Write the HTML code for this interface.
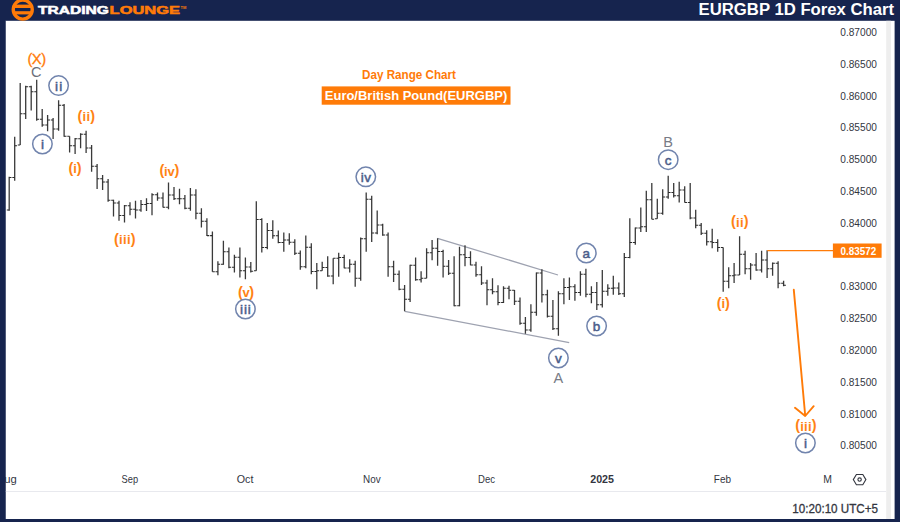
<!DOCTYPE html>
<html lang="en"><head><meta charset="utf-8"><title>EURGBP 1D Forex Chart</title>
<style>
html,body{margin:0;padding:0;background:#16244e;}
body{width:900px;height:522px;overflow:hidden;position:relative;}
svg{display:block;position:absolute;left:0;top:0;font-family:"Liberation Sans",sans-serif;}
</style></head><body>
<svg width="900" height="522" viewBox="0 0 900 522">
<rect x="0" y="0" width="900" height="522" fill="#16244e"/>
<rect x="5.5" y="20.8" width="889.1" height="498.2" fill="#ffffff"/>
<rect x="886.2" y="20.8" width="4.8" height="498.2" fill="#eeeeee"/>
<rect x="5.5" y="491" width="880.5" height="1" fill="#e8e9ee"/>
<!-- logo -->
<g>
<circle cx="22.75" cy="9.6" r="9.5" fill="none" stroke="#ff7b08" stroke-width="3.4"/>
<rect x="13.5" y="4.6" width="18.5" height="3.4" fill="#ff7b08"/>
<rect x="13.5" y="11.2" width="18.5" height="3.2" fill="#ff7b08"/>
<text x="37.9" y="13.9" font-size="11.6" font-weight="bold" fill="#ffffff" stroke="#ffffff" stroke-width="0.55" textLength="71" lengthAdjust="spacingAndGlyphs">TRADING</text>
<text x="109.6" y="13.9" font-size="11.6" font-weight="bold" fill="#ff7b08" stroke="#ff7b08" stroke-width="0.55" textLength="70.4" lengthAdjust="spacingAndGlyphs">LOUNGE</text>
<text x="180.6" y="8.5" font-size="4" font-weight="bold" fill="#ff7b08">TM</text>
</g>
<text x="894.2" y="15.1" text-anchor="end" font-size="15.6" font-weight="bold" fill="#ffffff" textLength="195.6" lengthAdjust="spacingAndGlyphs">EURGBP 1D Forex Chart</text>
<!-- titles -->
<text x="409" y="78.6" text-anchor="middle" font-size="12" font-weight="bold" fill="#ff7b08" textLength="94" lengthAdjust="spacingAndGlyphs">Day Range Chart</text>
<rect x="321.7" y="86.4" width="188.8" height="18.3" fill="#ff7b08"/>
<text x="324.8" y="99.7" font-size="13" font-weight="bold" fill="#ffffff" textLength="182.5" lengthAdjust="spacingAndGlyphs">Euro/British Pound(EURGBP)</text>
<!-- trend lines -->
<path d="M437.5 238.3L558 275M404.7 311.3L569.2 342.6" stroke="#9ea2b0" stroke-width="1.25" fill="none"/>
<!-- bars -->
<path d="M9.2 176.7V210.8M14.7 136.7V180.8M20.2 83.0V145.0M25.7 85.8V119.0M31.2 85.8V110.5M36.7 79.7V120.8M42.2 109.0V126.7M47.6 115.0V131.3M53.1 118.0V139.0M58.6 100.3V130.8M64.1 104.0V136.7M69.6 136.3V152.5M75.1 138.0V154.0M80.6 133.3V148.3M86.1 130.8V153.0M91.6 145.0V171.7M97.1 164.0V189.0M102.6 175.0V190.0M108.1 179.0V201.7M113.5 199.7V216.5M119.0 200.8V220.8M124.5 205.0V222.5M130.0 202.3V215.2M135.5 200.8V218.5M141.0 200.0V211.7M146.5 198.3V211.0M152.0 193.3V215.3M157.5 192.5V200.8M163.0 192.5V207.5M168.5 182.5V209.2M174.0 187.0V200.0M179.5 188.7V204.2M184.9 195.0V209.2M190.4 188.0V210.8M195.9 189.2V219.2M201.4 208.2V227.5M206.9 218.3V236.0M212.4 231.5V271.7M217.9 261.3V275.3M223.4 240.8V264.7M228.9 247.5V268.3M234.4 254.7V272.5M239.9 247.5V277.5M245.4 257.5V279.2M250.8 262.0V272.5M256.3 201.3V270.8M261.8 218.3V252.5M267.3 223.0V249.2M272.8 220.3V238.7M278.3 230.5V243.3M283.8 232.5V251.7M289.3 233.3V244.7M294.8 239.2V255.0M300.3 250.5V269.7M305.8 235.5V268.3M311.3 243.3V274.2M316.8 263.0V289.2M322.2 261.7V270.8M327.7 256.3V276.7M333.2 258.3V284.2M338.7 252.7V276.7M344.2 254.7V268.3M349.7 259.2V272.5M355.2 260.8V286.7M360.7 237.5V280.8M366.2 192.5V251.7M371.7 195.8V242.0M377.2 210.5V234.2M382.7 223.7V235.8M388.1 232.5V276.7M393.6 260.8V282.0M399.1 270.5V290.3M404.6 285.0V311.3M410.1 264.8V302.0M415.6 257.5V280.8M421.1 271.2V282.5M426.6 248.3V278.3M432.1 240.0V260.2M437.6 238.3V265.8M443.1 249.7V277.5M448.6 260.0V275.0M454.1 256.3V306.3M459.5 246.7V306.3M465.0 245.3V266.3M470.5 251.3V265.3M476.0 261.7V276.7M481.5 266.3V285.0M487.0 279.7V305.3M492.5 278.3V294.2M498.0 285.3V305.3M503.5 286.3V303.0M509.0 285.8V299.2M514.5 290.0V305.0M520.0 297.5V324.7M525.4 317.0V333.7M530.9 304.2V331.7M536.4 272.5V315.8M541.9 269.2V302.5M547.4 289.7V317.5M552.9 300.0V330.0M558.4 291.3V335.8M563.9 278.3V304.2M569.4 277.5V300.0M574.9 284.2V300.8M580.4 271.3V295.8M585.9 268.7V297.3M591.4 286.3V303.3M596.8 282.0V310.0M602.3 270.0V307.5M607.8 284.2V295.8M613.3 275.8V294.7M618.8 282.5V295.0M624.3 253.0V297.0M629.8 218.3V258.3M635.3 227.5V244.7M640.8 207.5V232.0M646.3 190.8V232.0M651.8 183.0V219.2M657.3 198.7V218.7M662.7 189.2V214.7M668.2 175.8V198.7M673.7 183.0V197.5M679.2 181.7V202.5M684.7 186.3V202.5M690.2 183.0V219.2M695.7 209.7V228.3M701.2 223.0V235.0M706.7 230.3V245.5M712.2 228.7V248.2M717.7 239.3V251.7M723.2 247.5V291.7M728.7 267.2V288.3M734.1 263.0V283.0M739.6 236.3V275.0M745.1 250.8V274.2M750.6 263.0V279.7M756.1 253.0V270.8M761.6 250.8V272.5M767.1 250.3V278.0M772.6 262.5V275.8M778.1 261.3V288.3M783.6 280.8V286.3" stroke="#3a3a3a" stroke-width="1.3" fill="none"/>
<path d="M6.8 210.0H9.2M9.2 177.5H11.5M12.3 177.5H14.7M14.7 145.8H17.0M17.8 145.0H20.2M20.2 113.7H22.5M23.3 113.7H25.7M25.7 86.7H28.0M28.8 86.7H31.2M31.2 91.7H33.5M34.3 91.7H36.7M36.7 119.2H39.0M39.8 119.2H42.2M42.2 125.0H44.5M45.3 125.0H47.6M47.6 120.0H50.0M50.8 120.0H53.1M53.1 129.0H55.5M56.3 129.0H58.6M58.6 105.3H61.0M61.8 105.3H64.1M64.1 136.3H66.5M67.3 136.3H69.6M69.6 145.8H72.0M72.8 145.8H75.1M75.1 138.7H77.5M78.2 138.7H80.6M80.6 134.2H82.9M83.7 134.2H86.1M86.1 148.0H88.4M89.2 148.0H91.6M91.6 166.3H93.9M94.7 166.3H97.1M97.1 178.7H99.4M100.2 178.7H102.6M102.6 182.0H104.9M105.7 182.0H108.1M108.1 200.3H110.4M111.2 200.3H113.5M113.5 203.0H115.9M116.7 203.0H119.0M119.0 215.5H121.4M122.2 215.5H124.5M124.5 205.8H126.9M127.7 205.8H130.0M130.0 209.2H132.4M133.2 209.2H135.5M135.5 210.0H137.9M138.7 210.0H141.0M141.0 204.5H143.4M144.2 204.5H146.5M146.5 203.5H148.8M149.6 203.5H152.0M152.0 194.7H154.3M155.1 194.7H157.5M157.5 198.0H159.8M160.6 198.0H163.0M163.0 207.3H165.3M166.1 207.3H168.5M168.5 195.0H170.8M171.6 195.0H174.0M174.0 198.7H176.3M177.1 198.7H179.5M179.5 198.7H181.8M182.6 198.7H184.9M184.9 208.3H187.3M188.1 208.3H190.4M190.4 195.0H192.8M193.6 195.0H195.9M195.9 213.2H198.3M199.1 213.2H201.4M201.4 221.3H203.8M204.6 221.3H206.9M206.9 235.6H209.3M210.1 235.6H212.4M212.4 271.7H214.8M215.5 271.7H217.9M217.9 264.2H220.2M221.0 264.2H223.4M223.4 251.7H225.7M226.5 251.7H228.9M228.9 267.2H231.2M232.0 267.2H234.4M234.4 257.2H236.7M237.5 257.2H239.9M239.9 270.8H242.2M243.0 270.8H245.4M245.4 267.0H247.7M248.5 267.0H250.8M250.8 271.3H253.2M254.0 270.8H256.3M256.3 219.5H258.7M259.5 219.5H261.8M261.8 247.5H264.2M265.0 247.5H267.3M267.3 230.5H269.7M270.5 230.5H272.8M272.8 235.8H275.2M276.0 235.8H278.3M278.3 242.5H280.7M281.4 242.5H283.8M283.8 240.0H286.2M286.9 240.0H289.3M289.3 242.2H291.6M292.4 242.2H294.8M294.8 253.3H297.1M297.9 253.3H300.3M300.3 266.7H302.6M303.4 266.7H305.8M305.8 247.2H308.1M308.9 247.2H311.3M311.3 271.5H313.6M314.4 271.5H316.8M316.8 270.8H319.1M319.9 270.8H322.2M322.2 267.5H324.6M325.4 267.5H327.7M327.7 276.0H330.1M330.9 276.0H333.2M333.2 258.3H335.6M336.4 258.3H338.7M338.7 257.5H341.1M341.9 257.5H344.2M344.2 268.0H346.6M347.4 268.0H349.7M349.7 264.2H352.1M352.8 264.2H355.2M355.2 278.3H357.5M358.3 278.3H360.7M360.7 238.7H363.0M363.8 238.7H366.2M366.2 199.2H368.5M369.3 199.2H371.7M371.7 233.0H374.0M374.8 233.0H377.2M377.2 225.0H379.5M380.3 225.0H382.7M382.7 235.0H385.0M385.8 235.0H388.1M388.1 266.8H390.5M391.3 266.8H393.6M393.6 274.2H396.0M396.8 274.2H399.1M399.1 289.2H401.5M402.3 289.2H404.6M404.6 299.2H407.0M407.8 299.2H410.1M410.1 265.3H412.5M413.3 265.3H415.6M415.6 279.7H418.0M418.7 279.7H421.1M421.1 278.3H423.4M424.2 278.3H426.6M426.6 252.7H428.9M429.7 252.7H432.1M432.1 248.3H434.4M435.2 248.3H437.6M437.6 251.5H439.9M440.7 251.5H443.1M443.1 266.3H445.4M446.2 266.3H448.6M448.6 273.3H450.9M451.7 273.3H454.1M454.1 305.8H456.4M457.2 305.8H459.5M459.5 254.7H461.9M462.7 254.7H465.0M465.0 257.5H467.4M468.2 257.5H470.5M470.5 265.0H472.9M473.7 265.0H476.0M476.0 274.7H478.4M479.2 274.7H481.5M481.5 283.0H483.9M484.7 283.0H487.0M487.0 289.7H489.4M490.1 289.7H492.5M492.5 291.7H494.8M495.6 291.7H498.0M498.0 302.5H500.3M501.1 302.5H503.5M503.5 288.3H505.8M506.6 288.3H509.0M509.0 290.3H511.3M512.1 290.3H514.5M514.5 301.3H516.8M517.6 301.3H520.0M520.0 323.3H522.3M523.1 323.3H525.4M525.4 330.0H527.8M528.6 330.0H530.9M530.9 312.2H533.3M534.1 312.2H536.4M536.4 273.0H538.8M539.6 273.0H541.9M541.9 294.7H544.3M545.1 294.7H547.4M547.4 316.3H549.8M550.6 316.3H552.9M552.9 328.7H555.3M556.1 328.7H558.4M558.4 293.7H560.8M561.5 293.7H563.9M563.9 287.5H566.2M567.0 287.5H569.4M569.4 286.7H571.7M572.5 286.7H574.9M574.9 292.5H577.2M578.0 292.5H580.4M580.4 274.2H582.7M583.5 274.2H585.9M585.9 294.2H588.2M589.0 294.2H591.4M591.4 292.5H593.7M594.5 292.5H596.8M596.8 304.7H599.2M600.0 304.7H602.3M602.3 291.3H604.7M605.5 291.3H607.8M607.8 288.3H610.2M611.0 288.3H613.3M613.3 288.0H615.7M616.5 288.0H618.8M618.8 293.7H621.2M622.0 293.7H624.3M624.3 257.5H626.7M627.4 257.5H629.8M629.8 242.5H632.1M632.9 242.5H635.3M635.3 228.0H637.6M638.4 228.0H640.8M640.8 226.7H643.1M643.9 226.7H646.3M646.3 199.7H648.6M649.4 199.7H651.8M651.8 219.2H654.1M654.9 218.7H657.3M657.3 213.3H659.6M660.4 213.3H662.7M662.7 197.0H665.1M665.9 197.0H668.2M668.2 192.5H670.6M671.4 192.5H673.7M673.7 195.8H676.1M676.9 195.8H679.2M679.2 190.0H681.6M682.4 190.0H684.7M684.7 202.5H687.1M687.9 202.5H690.2M690.2 218.0H692.6M693.4 218.0H695.7M695.7 225.3H698.1M698.8 225.3H701.2M701.2 233.3H703.5M704.3 233.3H706.7M706.7 241.8H709.0M709.8 241.8H712.2M712.2 242.4H714.5M715.3 242.4H717.7M717.7 247.5H720.0M720.8 247.5H723.2M723.2 281.3H725.5M726.3 281.3H728.7M728.7 275.8H731.0M731.8 275.8H734.1M734.1 275.0H736.5M737.3 275.0H739.6M739.6 254.2H742.0M742.8 254.2H745.1M745.1 268.7H747.5M748.3 268.7H750.6M750.6 265.0H753.0M753.8 265.0H756.1M756.1 270.0H758.5M759.3 270.0H761.6M761.6 260.0H764.0M764.7 260.0H767.1M767.1 268.7H769.4M770.2 268.7H772.6M772.6 263.3H774.9M775.7 263.3H778.1M778.1 283.3H780.4M781.2 283.3H783.6M783.6 285.3H785.9" stroke="#2a2a2a" stroke-width="1.05" fill="none"/>
<!-- orange level + arrow -->
<path d="M767.2 250.6H833" stroke="#ff7b08" stroke-width="1.05" fill="none"/>
<rect x="832.9" y="243.5" width="48.7" height="14.3" fill="#ff7b08"/>
<text x="840.4" y="255" font-size="11" font-weight="bold" fill="#ffffff" textLength="35.8" lengthAdjust="spacingAndGlyphs">0.83572</text>
<path d="M793.8 289.8L805.2 415.5M795 407.8L805.2 416L813.7 406.2" stroke="#ff7b08" stroke-width="1.9" fill="none" stroke-linecap="round" stroke-linejoin="round"/>
<!-- wave labels -->
<text x="36.8" y="64.3" text-anchor="middle" font-size="14.8" fill="#ff7b08" stroke="#ff7b08" stroke-width="0.3" textLength="18.8" lengthAdjust="spacing">(X)</text>
<text x="36.3" y="76.60000000000001" text-anchor="middle" font-size="14.5" fill="#6c6f7a">C</text>
<circle cx="58.6" cy="85.6" r="9.75" fill="none" stroke="#7184ad" stroke-width="1.5"/><text x="58.6" y="90.5" text-anchor="middle" font-size="13.5" fill="#4a5d8a" stroke="#4a5d8a" stroke-width="0.5" textLength="7.4" lengthAdjust="spacing">ii</text>
<circle cx="42.4" cy="144" r="9.75" fill="none" stroke="#7184ad" stroke-width="1.5"/><text x="42.4" y="148.9" text-anchor="middle" font-size="13.5" fill="#4a5d8a" stroke="#4a5d8a" stroke-width="0.5">i</text>
<text x="77.60" y="120.9" font-weight="bold" fill="#ff8214" letter-spacing="0.17"><tspan font-size="14.5" dy="-0.3">(</tspan><tspan font-size="13" dy="0.3">ii</tspan><tspan font-size="14.5" dy="-0.3">)</tspan></text>
<text x="68.60" y="172.9" font-weight="bold" fill="#ff8214" letter-spacing="-0.14"><tspan font-size="14.5" dy="-0.3">(</tspan><tspan font-size="13" dy="0.3">i</tspan><tspan font-size="14.5" dy="-0.3">)</tspan></text>
<text x="114.00" y="243.9" font-weight="bold" fill="#ff8214" letter-spacing="0.28"><tspan font-size="14.5" dy="-0.3">(</tspan><tspan font-size="13" dy="0.3">iii</tspan><tspan font-size="14.5" dy="-0.3">)</tspan></text>
<text x="159.40" y="175.5" font-weight="bold" fill="#ff8214" letter-spacing="-0.17"><tspan font-size="14.5" dy="-0.3">(</tspan><tspan font-size="13" dy="0.3">iv</tspan><tspan font-size="14.5" dy="-0.3">)</tspan></text>
<text x="238.00" y="296.9" font-weight="bold" fill="#ff8214" letter-spacing="-0.44"><tspan font-size="14.5" dy="-0.3">(</tspan><tspan font-size="13" dy="0.3">v</tspan><tspan font-size="14.5" dy="-0.3">)</tspan></text>
<circle cx="245.4" cy="309" r="9.75" fill="none" stroke="#7184ad" stroke-width="1.5"/><text x="245.4" y="313.9" text-anchor="middle" font-size="13.5" fill="#4a5d8a" stroke="#4a5d8a" stroke-width="0.5" textLength="10.9" lengthAdjust="spacing">iii</text>
<circle cx="365.8" cy="176.8" r="9.75" fill="none" stroke="#7184ad" stroke-width="1.5"/><text x="365.8" y="181.7" text-anchor="middle" font-size="13.5" fill="#4a5d8a" stroke="#4a5d8a" stroke-width="0.5" textLength="10.2" lengthAdjust="spacing">iv</text>
<circle cx="586.3" cy="253" r="9.75" fill="none" stroke="#7184ad" stroke-width="1.5"/><text x="586.3" y="257.9" text-anchor="middle" font-size="13.5" fill="#4a5d8a" stroke="#4a5d8a" stroke-width="0.5">a</text>
<circle cx="596.6" cy="326" r="9.75" fill="none" stroke="#7184ad" stroke-width="1.5"/><text x="596.6" y="330.9" text-anchor="middle" font-size="13.5" fill="#4a5d8a" stroke="#4a5d8a" stroke-width="0.5">b</text>
<circle cx="558.4" cy="358" r="9.75" fill="none" stroke="#7184ad" stroke-width="1.5"/><text x="558.4" y="362.9" text-anchor="middle" font-size="13.5" fill="#4a5d8a" stroke="#4a5d8a" stroke-width="0.5">v</text>
<text x="558.4" y="382.9" text-anchor="middle" font-size="14.5" fill="#787b86">A</text>
<text x="668.2" y="146.7" text-anchor="middle" font-size="14.5" fill="#787b86">B</text>
<circle cx="668.2" cy="159.7" r="9.75" fill="none" stroke="#7184ad" stroke-width="1.5"/><text x="668.2" y="164.6" text-anchor="middle" font-size="13.5" fill="#4a5d8a" stroke="#4a5d8a" stroke-width="0.5">c</text>
<text x="716.80" y="308.2" font-weight="bold" fill="#ff8214" letter-spacing="-0.14"><tspan font-size="14.5" dy="-0.3">(</tspan><tspan font-size="13" dy="0.3">i</tspan><tspan font-size="14.5" dy="-0.3">)</tspan></text>
<text x="731.10" y="226.7" font-weight="bold" fill="#ff8214" letter-spacing="0.17"><tspan font-size="14.5" dy="-0.3">(</tspan><tspan font-size="13" dy="0.3">ii</tspan><tspan font-size="14.5" dy="-0.3">)</tspan></text>
<text x="795.25" y="430.6" font-weight="bold" fill="#ff8214" letter-spacing="0.20"><tspan font-size="14.5" dy="-0.3">(</tspan><tspan font-size="13" dy="0.3">iii</tspan><tspan font-size="14.5" dy="-0.3">)</tspan></text>
<circle cx="805.4" cy="443" r="9.75" fill="none" stroke="#7184ad" stroke-width="1.5"/><text x="805.4" y="447.9" text-anchor="middle" font-size="13.5" fill="#4a5d8a" stroke="#4a5d8a" stroke-width="0.5">i</text>
<!-- axes -->
<text x="840.3" y="35.9" font-size="11" fill="#33363f" textLength="36.6" lengthAdjust="spacingAndGlyphs">0.87000</text><text x="840.3" y="67.7" font-size="11" fill="#33363f" textLength="36.6" lengthAdjust="spacingAndGlyphs">0.86500</text><text x="840.3" y="99.5" font-size="11" fill="#33363f" textLength="36.6" lengthAdjust="spacingAndGlyphs">0.86000</text><text x="840.3" y="131.3" font-size="11" fill="#33363f" textLength="36.6" lengthAdjust="spacingAndGlyphs">0.85500</text><text x="840.3" y="163.1" font-size="11" fill="#33363f" textLength="36.6" lengthAdjust="spacingAndGlyphs">0.85000</text><text x="840.3" y="194.9" font-size="11" fill="#33363f" textLength="36.6" lengthAdjust="spacingAndGlyphs">0.84500</text><text x="840.3" y="226.7" font-size="11" fill="#33363f" textLength="36.6" lengthAdjust="spacingAndGlyphs">0.84000</text><text x="840.3" y="290.3" font-size="11" fill="#33363f" textLength="36.6" lengthAdjust="spacingAndGlyphs">0.83000</text><text x="840.3" y="322.1" font-size="11" fill="#33363f" textLength="36.6" lengthAdjust="spacingAndGlyphs">0.82500</text><text x="840.3" y="353.9" font-size="11" fill="#33363f" textLength="36.6" lengthAdjust="spacingAndGlyphs">0.82000</text><text x="840.3" y="385.7" font-size="11" fill="#33363f" textLength="36.6" lengthAdjust="spacingAndGlyphs">0.81500</text><text x="840.3" y="417.5" font-size="11" fill="#33363f" textLength="36.6" lengthAdjust="spacingAndGlyphs">0.81000</text><text x="840.3" y="449.3" font-size="11" fill="#33363f" textLength="36.6" lengthAdjust="spacingAndGlyphs">0.80500</text>
<text x="-3.2" y="482.7" font-size="11" fill="#33363f" textLength="20" lengthAdjust="spacingAndGlyphs">Aug</text>
<text x="121.6" y="482.7" font-size="11" fill="#33363f" textLength="16.5" lengthAdjust="spacingAndGlyphs">Sep</text><text x="236.7" y="482.7" font-size="11" fill="#33363f" textLength="16.7" lengthAdjust="spacingAndGlyphs">Oct</text><text x="363.0" y="482.7" font-size="11" fill="#33363f" textLength="17.6" lengthAdjust="spacingAndGlyphs">Nov</text><text x="478.1" y="482.7" font-size="11" fill="#33363f" textLength="17" lengthAdjust="spacingAndGlyphs">Dec</text><text x="590.2" y="482.7" font-size="11" fill="#33363f" textLength="23.8" lengthAdjust="spacingAndGlyphs" font-weight="bold">2025</text><text x="713.8" y="482.7" font-size="11" fill="#33363f" textLength="17.2" lengthAdjust="spacingAndGlyphs">Feb</text>
<text x="823.3" y="482.7" font-size="11" fill="#33363f" textLength="8.7" lengthAdjust="spacingAndGlyphs">M</text>
<rect x="0" y="21" width="5.5" height="498" fill="#16244e"/>
<g fill="none" stroke="#33363f" stroke-width="1.1"><path d="M853.3 479.6L856.4 474.5H862.8L865.9 479.6L862.8 484.7H856.4Z"/><circle cx="859.6" cy="479.6" r="1.7"/></g>
<text x="792.3" y="512.7" font-size="12" fill="#33363f" stroke="#33363f" stroke-width="0.3" textLength="85.7" lengthAdjust="spacingAndGlyphs">10:20:10 UTC+5</text>
</svg>
</body></html>
